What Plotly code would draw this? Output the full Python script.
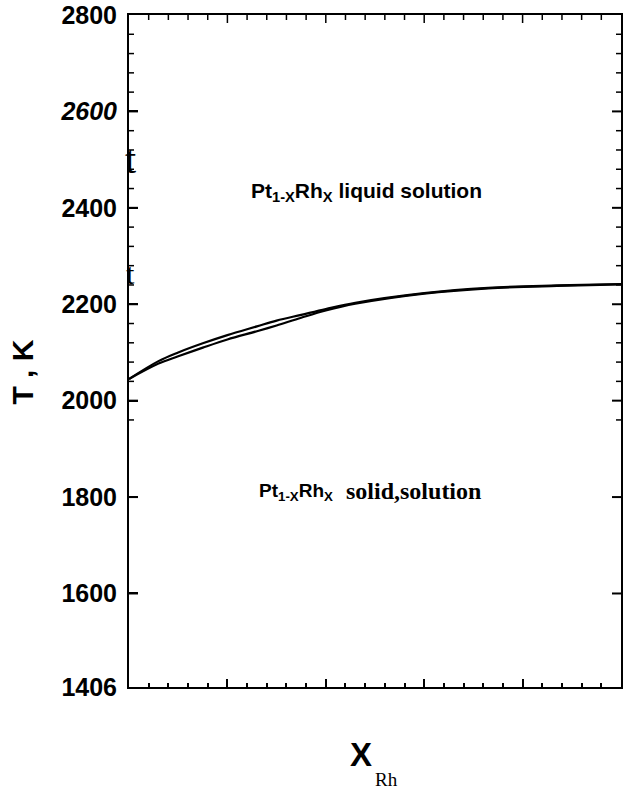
import plotly.graph_objects as go

# Data (mole fraction of Rh, temperature in K)
x_rh = [0.0, 0.06, 0.10, 0.15, 0.20, 0.26, 0.30, 0.35, 0.40, 0.46, 0.60, 0.73, 0.87, 1.0]
t_liquidus = [2045, 2082, 2100, 2119, 2136, 2154, 2166, 2178, 2190, 2203, 2223, 2234, 2239, 2242]
t_solidus = [2045, 2077, 2092, 2110, 2127, 2144, 2156, 2172, 2187, 2201, 2222, 2233, 2238, 2241]

y_tickvals = [1406, 1600, 1800, 2000, 2200, 2400, 2600, 2800]
y_ticktext = ["<b>1406</b>", "<b>1600</b>", "<b>1800</b>", "<b>2000</b>", "<b>2200</b>",
              "<b>2400</b>", "<b><i>2600</i></b>", "<b>2800</b>"]

SANS = "Liberation Sans"
SERIF = "Liberation Serif"

X_RANGE = [0, 1]
Y_RANGE = [1406, 2800]

minor_y = [v for v in range(1960, 2800, 40) if v % 200 != 0]
major_x = [i * 0.2 for i in range(1, 5)]
minor_x = [i * 0.04 for i in range(1, 25) if i % 5 != 0]

fig = go.Figure()
fig.add_trace(go.Scatter(x=x_rh, y=t_liquidus, mode="lines",
                         line=dict(color="black", width=2.2, shape="spline", smoothing=1.0)))
fig.add_trace(go.Scatter(x=x_rh, y=t_solidus, mode="lines",
                         line=dict(color="black", width=2.2, shape="spline", smoothing=1.0)))

fig.update_layout(
    width=624, height=789, showlegend=False,
    margin=dict(l=129, r=1, t=15, b=102),
    paper_bgcolor="white", plot_bgcolor="white",
    xaxis=dict(range=X_RANGE, showgrid=False, zeroline=False,
               showline=True, linecolor="black", linewidth=2, mirror=True,
               ticks="inside", ticklen=8, tickwidth=2, tickcolor="black",
               dtick=0.2, showticklabels=False,
               minor=dict(ticks="inside", ticklen=4, tickwidth=2,
                          tickcolor="black", dtick=0.04)),
    yaxis=dict(range=Y_RANGE, showgrid=False, zeroline=False,
               showline=True, linecolor="black", linewidth=2, mirror=True,
               ticks="inside", ticklen=9, tickwidth=2,
               tickcolor="black", tickvals=y_tickvals, ticktext=y_ticktext,
               ticklabelstandoff=5,
               tickfont=dict(family=SANS, size=25, color="black")),
)

# tick marks on the left, right and top frame edges (anchored to the axis scales)
shapes = []
for vals, length, width in [(y_tickvals[1:-1], 9, 2), (minor_y, 5, 1.5)]:
    for v in vals:
        for anchor, sign in [(0, 1), (1, -1)]:
            shapes.append(dict(type="line", xref="paper", yref="y",
                               xsizemode="pixel", xanchor=anchor,
                               x0=0, x1=sign * length, y0=v, y1=v,
                               line=dict(color="black", width=width)))
for vals, length, width in [(major_x, 8, 1.5), (minor_x, 5, 1.5)]:
    for v in vals:
        shapes.append(dict(type="line", xref="x", yref="paper",
                           ysizemode="pixel", yanchor=1,
                           x0=v, x1=v, y0=0, y1=-length,
                           line=dict(color="black", width=width)))

annotations = [
    dict(text="<b>Pt<sub>1-X</sub>Rh<sub>X</sub> liquid solution</b>",
         x=0.244, y=2433, xref="x", yref="y", xanchor="left", yanchor="middle",
         showarrow=False, font=dict(family=SANS, size=21, color="black")),
    dict(text="<b>Pt<sub>1-X</sub>Rh<sub>X</sub></b>",
         x=0.26, y=1810, xref="x", yref="y", xanchor="left", yanchor="middle",
         showarrow=False, font=dict(family=SANS, size=19, color="black")),
    dict(text="<b>solid,solution</b>",
         x=0.436, y=1812, xref="x", yref="y", xanchor="left", yanchor="middle",
         showarrow=False, font=dict(family=SERIF, size=24, color="black")),
    dict(text="<b>T , K</b>", textangle=-90,
         x=-0.216, y=0.469, xref="paper", yref="paper",
         xanchor="center", yanchor="middle", showarrow=False,
         font=dict(family=SANS, size=30, color="black")),
    dict(text="<b>X</b>", x=0.471, y=-0.101, xref="paper", yref="paper",
         xanchor="center", yanchor="middle", showarrow=False,
         font=dict(family=SANS, size=33, color="black")),
    dict(text="Rh", x=0.523, y=-0.137, xref="paper", yref="paper",
         xanchor="center", yanchor="middle", showarrow=False,
         font=dict(family=SERIF, size=19, color="black")),
    dict(text="t", x=0.003, y=0.785, xref="paper", yref="paper",
         xanchor="center", yanchor="middle", showarrow=False,
         font=dict(family=SERIF, size=40, color="black")),
    dict(text="t", x=0.003, y=0.615, xref="paper", yref="paper",
         xanchor="center", yanchor="middle", showarrow=False,
         font=dict(family=SERIF, size=30, color="black")),
]
fig.update_layout(annotations=annotations, shapes=shapes)

fig.write_html("out.html")
